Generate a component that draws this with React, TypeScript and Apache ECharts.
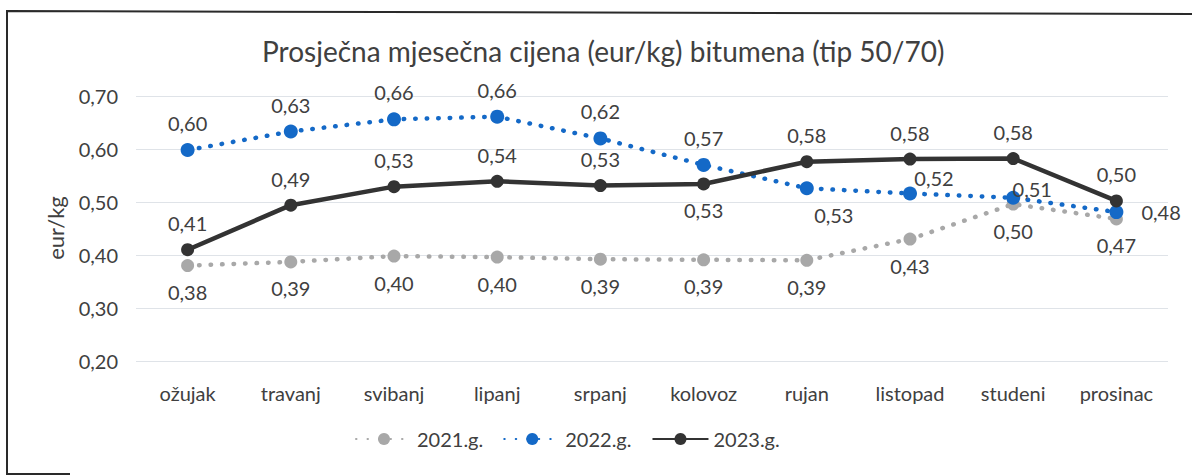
import React, { useEffect, useRef } from "react";
import * as echarts from "echarts";

const categories = ["ožujak", "travanj", "svibanj", "lipanj", "srpanj", "kolovoz", "rujan", "listopad", "studeni", "prosinac"];
const seriesNames = ["2021.g.", "2022.g.", "2023.g."];
const values2021 = [0.380, 0.387, 0.398, 0.396, 0.392, 0.391, 0.390, 0.430, 0.496, 0.468];
const values2022 = [0.598, 0.633, 0.656, 0.661, 0.620, 0.570, 0.526, 0.516, 0.508, 0.481];
const values2023 = [0.410, 0.494, 0.529, 0.539, 0.531, 0.534, 0.576, 0.581, 0.582, 0.502];
const yTicks = { min: 0.2, max: 0.7, interval: 0.1 };
const yAxisName = "eur/kg";

const FONT = "Lato";
const TEXT = "#404040";
const fmt = (v: number) => v.toFixed(2).replace(".", ",");

type LabelOpt = { position: any; offset?: number[]; distance?: number };
const lbl2021: LabelOpt[] = values2021.map(() => ({ position: "bottom" }));
const lbl2022: LabelOpt[] = [
  { position: "top" }, { position: "top" }, { position: "top" }, { position: "top" }, { position: "top" }, { position: "top" },
  { position: "bottom", offset: [27, 0] },
  { position: "top", offset: [24, 11] },
  { position: "top", offset: [19, 18] },
  { position: "right", distance: 18 },
];
const lbl2023: LabelOpt[] = [
  { position: "top" }, { position: "top" }, { position: "top" }, { position: "top" }, { position: "top" },
  { position: "bottom" },
  { position: "top" }, { position: "top" }, { position: "top" }, { position: "top" },
];

function mk(vals: number[], labels: LabelOpt[]) {
  return vals.map((v, i) => ({
    value: v,
    label: { position: labels[i].position, offset: labels[i].offset || [0, 0], distance: labels[i].distance ?? 10 },
  }));
}

export default function App() {
  const ref = useRef<HTMLDivElement>(null);
  useEffect(() => {
    if (!ref.current) return;
    const chart = echarts.init(ref.current, null, { renderer: "svg" });
    const labelBase = { show: true, color: TEXT, fontFamily: FONT, fontSize: 20, formatter: (p: any) => fmt(p.value) };
    chart.setOption({
      animation: false,
      backgroundColor: "#ffffff",
      title: {
        text: "Prosječna mjesečna cijena (eur/kg) bitumena (tip 50/70)",
        left: 257,
        top: 32,
        textStyle: { fontFamily: FONT, fontSize: 28, fontWeight: "normal", color: TEXT },
      },
      graphic: [
        {
          type: "polyline",
          shape: { points: [[70, 474], [7, 474], [7, 11], [1192, 14]] },
          style: { stroke: "#2a2a2a", lineWidth: 2, fill: "none" },
          silent: true,
        },
        {
          type: "text",
          x: 55,
          y: 228,
          rotation: Math.PI / 2,
          style: {
            text: yAxisName,
            fontFamily: FONT,
            fontSize: 22,
            fill: TEXT,
            align: "center",
            verticalAlign: "middle",
          },
          silent: true,
        },
      ],
      grid: { left: 136, right: 24, top: 96, bottom: 115 },
      legend: {
        bottom: 22,
        left: 350,
        itemWidth: 56,
        itemHeight: 15,
        itemGap: 20,
        data: seriesNames,
        textStyle: { fontFamily: FONT, fontSize: 20, color: TEXT },
      },
      xAxis: {
        type: "category",
        data: categories,
        boundaryGap: true,
        axisLine: { show: false },
        axisTick: { show: false },
        axisLabel: { fontFamily: FONT, fontSize: 20, color: TEXT, margin: 22 },
      },
      yAxis: {
        type: "value",
        min: yTicks.min,
        max: yTicks.max,
        interval: yTicks.interval,
        axisLabel: { fontFamily: FONT, fontSize: 20, color: TEXT, margin: 18, formatter: (v: number) => fmt(v) },
        splitLine: { lineStyle: { color: "#dfe3e8", width: 1 } },
        axisLine: { show: false },
        axisTick: { show: false },
      },
      series: [
        {
          name: seriesNames[0],
          type: "line",
          data: mk(values2021, lbl2021),
          symbol: "circle",
          symbolSize: 13,
          itemStyle: { color: "#a8a8a8" },
          lineStyle: { color: "#a8a8a8", width: 4.5, type: [0.5, 11], cap: "round" },
          label: labelBase,
          z: 2,
        },
        {
          name: seriesNames[1],
          type: "line",
          data: mk(values2022, lbl2022),
          symbol: "circle",
          symbolSize: 14,
          itemStyle: { color: "#1469c7" },
          lineStyle: { color: "#1469c7", width: 4.5, type: [0.5, 11], cap: "round" },
          label: labelBase,
          z: 3,
        },
        {
          name: seriesNames[2],
          type: "line",
          data: mk(values2023, lbl2023),
          symbol: "circle",
          symbolSize: 13,
          itemStyle: { color: "#333333" },
          lineStyle: { color: "#333333", width: 4.5 },
          label: labelBase,
          z: 4,
        },
      ],
    });
    return () => chart.dispose();
  }, []);
  return <div ref={ref} style={{ position: "fixed", left: 0, top: 0, width: 1192, height: 476 }} />;
}
